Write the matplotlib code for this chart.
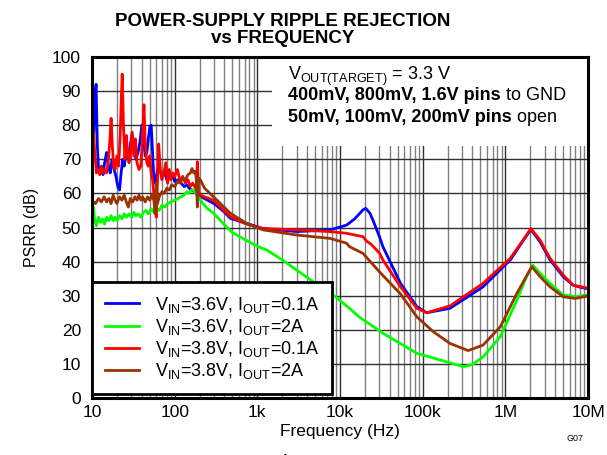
import matplotlib
matplotlib.use('Agg')
import matplotlib.pyplot as plt
from matplotlib.patches import Rectangle
from matplotlib.ticker import FixedLocator, FixedFormatter, NullFormatter, LogLocator

plt.rcParams['font.family'] = ['Liberation Sans', 'DejaVu Sans']
plt.rcParams['mathtext.fontset'] = 'custom'
plt.rcParams['mathtext.rm'] = 'Liberation Sans'
plt.rcParams['mathtext.default'] = 'regular'

# VIN=3.6V, IOUT=0.1A
blue_f = [10, 10.4, 10.8, 11.2, 11.6, 12, 12.5, 13, 13.6, 14.2, 15, 15.8, 16.6, 17.5, 18.5,
          19.5, 20.5, 21.5, 22.5, 23.5, 24.5, 26, 27.5, 29, 30.5, 32, 34, 36, 38, 40, 42, 44,
          46, 48, 50, 52, 54, 56, 58, 61, 64, 68, 72, 76, 80, 85, 90, 95, 100, 110, 120, 130,
          140, 150, 160, 175, 190, 210, 250, 300, 400, 470, 740, 1170, 3000, 7600, 12000,
          15000, 19000, 20500, 23000, 25000, 30000, 33000, 54000, 85000, 112000, 214000,
          537000, 1150000, 1660000, 2040000, 2630000, 3470000, 5000000, 6600000, 8000000,
          10000000]
blue_v = [67, 72, 88, 92, 74, 67, 66, 68, 65.5, 69, 72, 68, 66, 70, 67,
          65, 62, 61, 66, 70, 68, 72, 70, 74, 77.5, 73, 70, 72, 75, 80, 76, 71,
          72, 76, 79.5, 80, 72, 64, 63, 66, 68, 66, 65, 67, 64, 66, 64.5, 65, 63.5, 64, 63, 62,
          62.5, 61.5, 61, 60.5, 60, 59, 58, 57, 54.5, 52.7, 51.2, 49.7, 48.8, 49.3, 50.7,
          52.5, 55.2, 55.6, 54.2, 52.2, 47.3, 44.4, 33.6, 26.8, 25, 26.3,
          32.6, 40.5, 46.3, 49.4, 45.8, 40.5, 35.6, 33.1, 32.5,
          32]

# VIN=3.6V, IOUT=2A
green_f = [10, 10.4, 10.8, 11.3, 12, 12.7, 13.4, 14.2, 15, 16, 17, 18, 19, 20, 21.5, 23, 24.5,
           26, 28, 30, 32, 34, 36, 39, 42, 45, 48, 52, 56, 60, 65, 70, 76, 82, 90, 100, 110,
           120, 130, 140, 150, 160, 170, 185, 200, 220, 250, 295, 400, 500, 700, 1000, 1300,
           2000, 3000, 4800, 8300, 13000, 17000, 33000, 85000, 195000, 310000, 400000,
           540000, 870000, 1380000, 1800000, 2140000, 2630000, 3470000, 5000000, 7200000,
           10000000]
green_v = [51, 56, 52, 50.5, 53, 51.5, 52.5, 51, 53, 52, 53.5, 52, 53, 52, 53.5, 52.5, 54,
           53, 54, 53, 54.5, 53.5, 54, 53, 54.5, 55, 54, 55.5, 54.5, 55.7, 55, 56.5, 56, 57, 57.5, 58, 58.5,
           59, 59.5, 60.5, 60, 61, 61, 59.5, 58.5, 57, 55.5, 54.2, 50.8, 48.5, 46.5, 44.5, 43.4,
           40.5, 37.5, 34, 30.2, 26.3, 23.8, 19, 13.1, 10.6, 9.2, 9.8,
           12.1, 18, 28.7, 35.6, 39, 36.6, 33.6, 30.2, 29.7,
           30.3]

# VIN=3.8V, IOUT=0.1A
red_f = [10, 10.4, 10.8, 11.3, 11.8, 12.4, 13, 13.6, 14.2, 15, 15.8, 16.5, 17, 17.6, 18.3, 19,
         20, 21, 22, 22.6, 23.2, 24, 25, 26, 27, 28, 29, 30.5, 32, 33.5, 35, 37, 39, 41, 42.5,
         44, 46, 48, 50, 52, 54, 56, 58, 60, 62, 64, 67, 70, 74, 78, 82, 86, 90, 95, 100, 108,
         116, 125, 135, 145, 155, 165, 175, 183, 188, 195, 205, 230, 295, 470, 740, 1170,
         3000, 7600, 12000, 19000, 21000, 24000, 30000, 33000, 54000, 85000, 112000, 214000,
         537000, 1150000, 1660000, 2040000, 2630000, 3470000, 5000000, 6600000, 8000000,
         10000000]
red_v = [65, 78, 72, 66, 67, 65.5, 68, 66, 67, 66, 70, 76, 82, 74, 68, 67,
         71, 68, 78, 88, 95, 80, 70, 77, 72, 69, 71, 78, 71, 76, 69, 67, 68, 78, 86,
         75, 69, 68, 71, 66, 64, 60, 55, 53, 64, 74.5, 67, 64, 66, 69, 63, 67, 64, 66, 65, 67,
         63.5, 65, 63, 64, 62, 63, 62, 61, 69.3, 60, 59.5, 59, 58, 53.2, 51, 49.7,
         49.3, 48.8, 48.3, 47.3, 46, 45, 42.5, 40.5, 32.6, 26.3, 25, 27,
         33.6, 41, 46.5, 49.7, 46.3, 41, 36.1, 33.1, 32.7,
         32.2]

# VIN=3.8V, IOUT=2A
brown_f = [10, 11, 12, 13, 14, 15, 16, 17, 18, 19, 20, 21.5, 23, 24.5, 26, 27.5, 29, 31, 33,
           35, 37, 39, 41, 44, 47, 50, 53, 56, 58, 60, 62, 65, 70, 75, 80, 86, 92, 100, 108,
           116, 125, 135, 145, 155, 162, 170, 178, 183, 188, 195, 205, 230, 295, 470, 740,
           1170, 3000, 7600, 12000, 13000, 19000, 21000, 30000, 54000, 85000, 135000, 214000,
           355000, 537000, 870000, 1380000, 2090000, 2630000, 3470000, 5000000, 7000000,
           10000000]
brown_v = [58, 57, 58.5, 57.5, 59, 57.5, 58.5, 57, 59.5, 58, 57, 59, 58, 59.5, 57.5, 56, 58.5, 57.5, 59,
           58, 59.5, 58, 59, 57.5, 59, 58, 59.5, 58, 54, 63, 57, 59, 60.5, 60, 61.5, 61, 62.5, 62, 63.5,
           63, 64.5, 64, 65.5, 66, 67.3, 66, 66.5, 64, 56, 64.5, 63.9, 61.5, 59, 54.2, 51.2,
           49.3, 47.8, 46.8, 45.4, 44.4, 42.4, 41.2, 37, 30.5, 23.8, 19.4, 16,
           13.9, 15.5, 20.9, 30.7, 38.5, 35.6, 32.6, 29.7, 29.2,
           29.9]

labels = [r'V$_{IN}$=3.6V, I$_{OUT}$=0.1A',
          r'V$_{IN}$=3.6V, I$_{OUT}$=2A',
          r'V$_{IN}$=3.8V, I$_{OUT}$=0.1A',
          r'V$_{IN}$=3.8V, I$_{OUT}$=2A']
colors = ['#0000ff', '#00ff00', '#ff0000', '#993300']

decades = [10, 100, 1e3, 1e4, 1e5, 1e6, 1e7]
decade_labels = ['10', '100', '1k', '10k', '100k', '1M', '10M']

fig = plt.figure(figsize=(6.07, 4.55), dpi=100)
ax = fig.add_axes([0.1516, 0.1253, 0.8171, 0.7494])

series = [(blue_f, blue_v), (green_f, green_v), (red_f, red_v), (brown_f, brown_v)]
for (f, v), c, lab in zip(series, colors, labels):
    ax.plot(f, v, color=c, lw=2, label=lab, zorder=2)

ax.set_xscale('log')
ax.set_xlim(10, 1e7)
ax.set_ylim(0, 100)
ax.set_yticks(range(0, 101, 10))
ax.xaxis.set_major_locator(FixedLocator(decades))
ax.xaxis.set_major_formatter(FixedFormatter(decade_labels))
ax.xaxis.set_minor_locator(LogLocator(base=10, subs=range(2, 10), numticks=20))
ax.xaxis.set_minor_formatter(NullFormatter())
ax.set_axisbelow(True)
ax.grid(which='major', color='#303030', lw=1.0)
ax.grid(which='minor', axis='x', color='#808080', lw=1.0)
ax.tick_params(which='both', length=0, labelsize=12.5)
ax.tick_params(axis='x', pad=5)
ax.tick_params(axis='y', pad=8)
for s in ax.spines.values():
    s.set_linewidth(2.2)

ax.set_xlabel('Frequency (Hz)', fontsize=12.5, labelpad=3)
ax.set_ylabel('PSRR (dB)', fontsize=11.5, labelpad=9)

# white area behind the conditions text
ax.add_patch(Rectangle((0.363, 0.74), 0.637, 0.26, transform=ax.transAxes,
                       facecolor='white', edgecolor='none', zorder=1))
ax.text(0.396, 0.933, r'V$_{OUT(TARGET)}$ = 3.3 V', transform=ax.transAxes,
        fontsize=13, va='baseline', zorder=3)
t2 = ax.text(0.396, 0.873, '400mV, 800mV, 1.6V pins', transform=ax.transAxes,
             fontsize=13, fontweight='bold', va='baseline', zorder=3)
ax.annotate(' to GND', xy=(1, 0), xycoords=t2, va='bottom', fontsize=13, zorder=3)
t3 = ax.text(0.396, 0.809, '50mV, 100mV, 200mV pins', transform=ax.transAxes,
             fontsize=13, fontweight='bold', va='baseline', zorder=3)
ax.annotate(' open', xy=(1, 0), xycoords=t3, va='bottom', fontsize=13, zorder=3)

leg = ax.legend(loc='lower left', bbox_to_anchor=(0.0, 0.012), borderaxespad=0,
                fontsize=13, handlelength=1.9, handletextpad=0.9, labelspacing=0.12,
                borderpad=0.7, fancybox=False, framealpha=1, edgecolor='black')
leg.get_frame().set_linewidth(2)

fig.text(0.465, 0.972, 'POWER-SUPPLY RIPPLE REJECTION\nvs FREQUENCY', ha='center',
         va='top', fontsize=13.5, fontweight='bold', linespacing=1.05)
fig.text(0.947, 0.037, 'G07', fontsize=6.5, ha='center', va='center')
fig.text(0.452, 0.003, 'Figure 11.', fontsize=11, fontweight='bold', va='top')

fig.savefig('out.png', dpi=100)
